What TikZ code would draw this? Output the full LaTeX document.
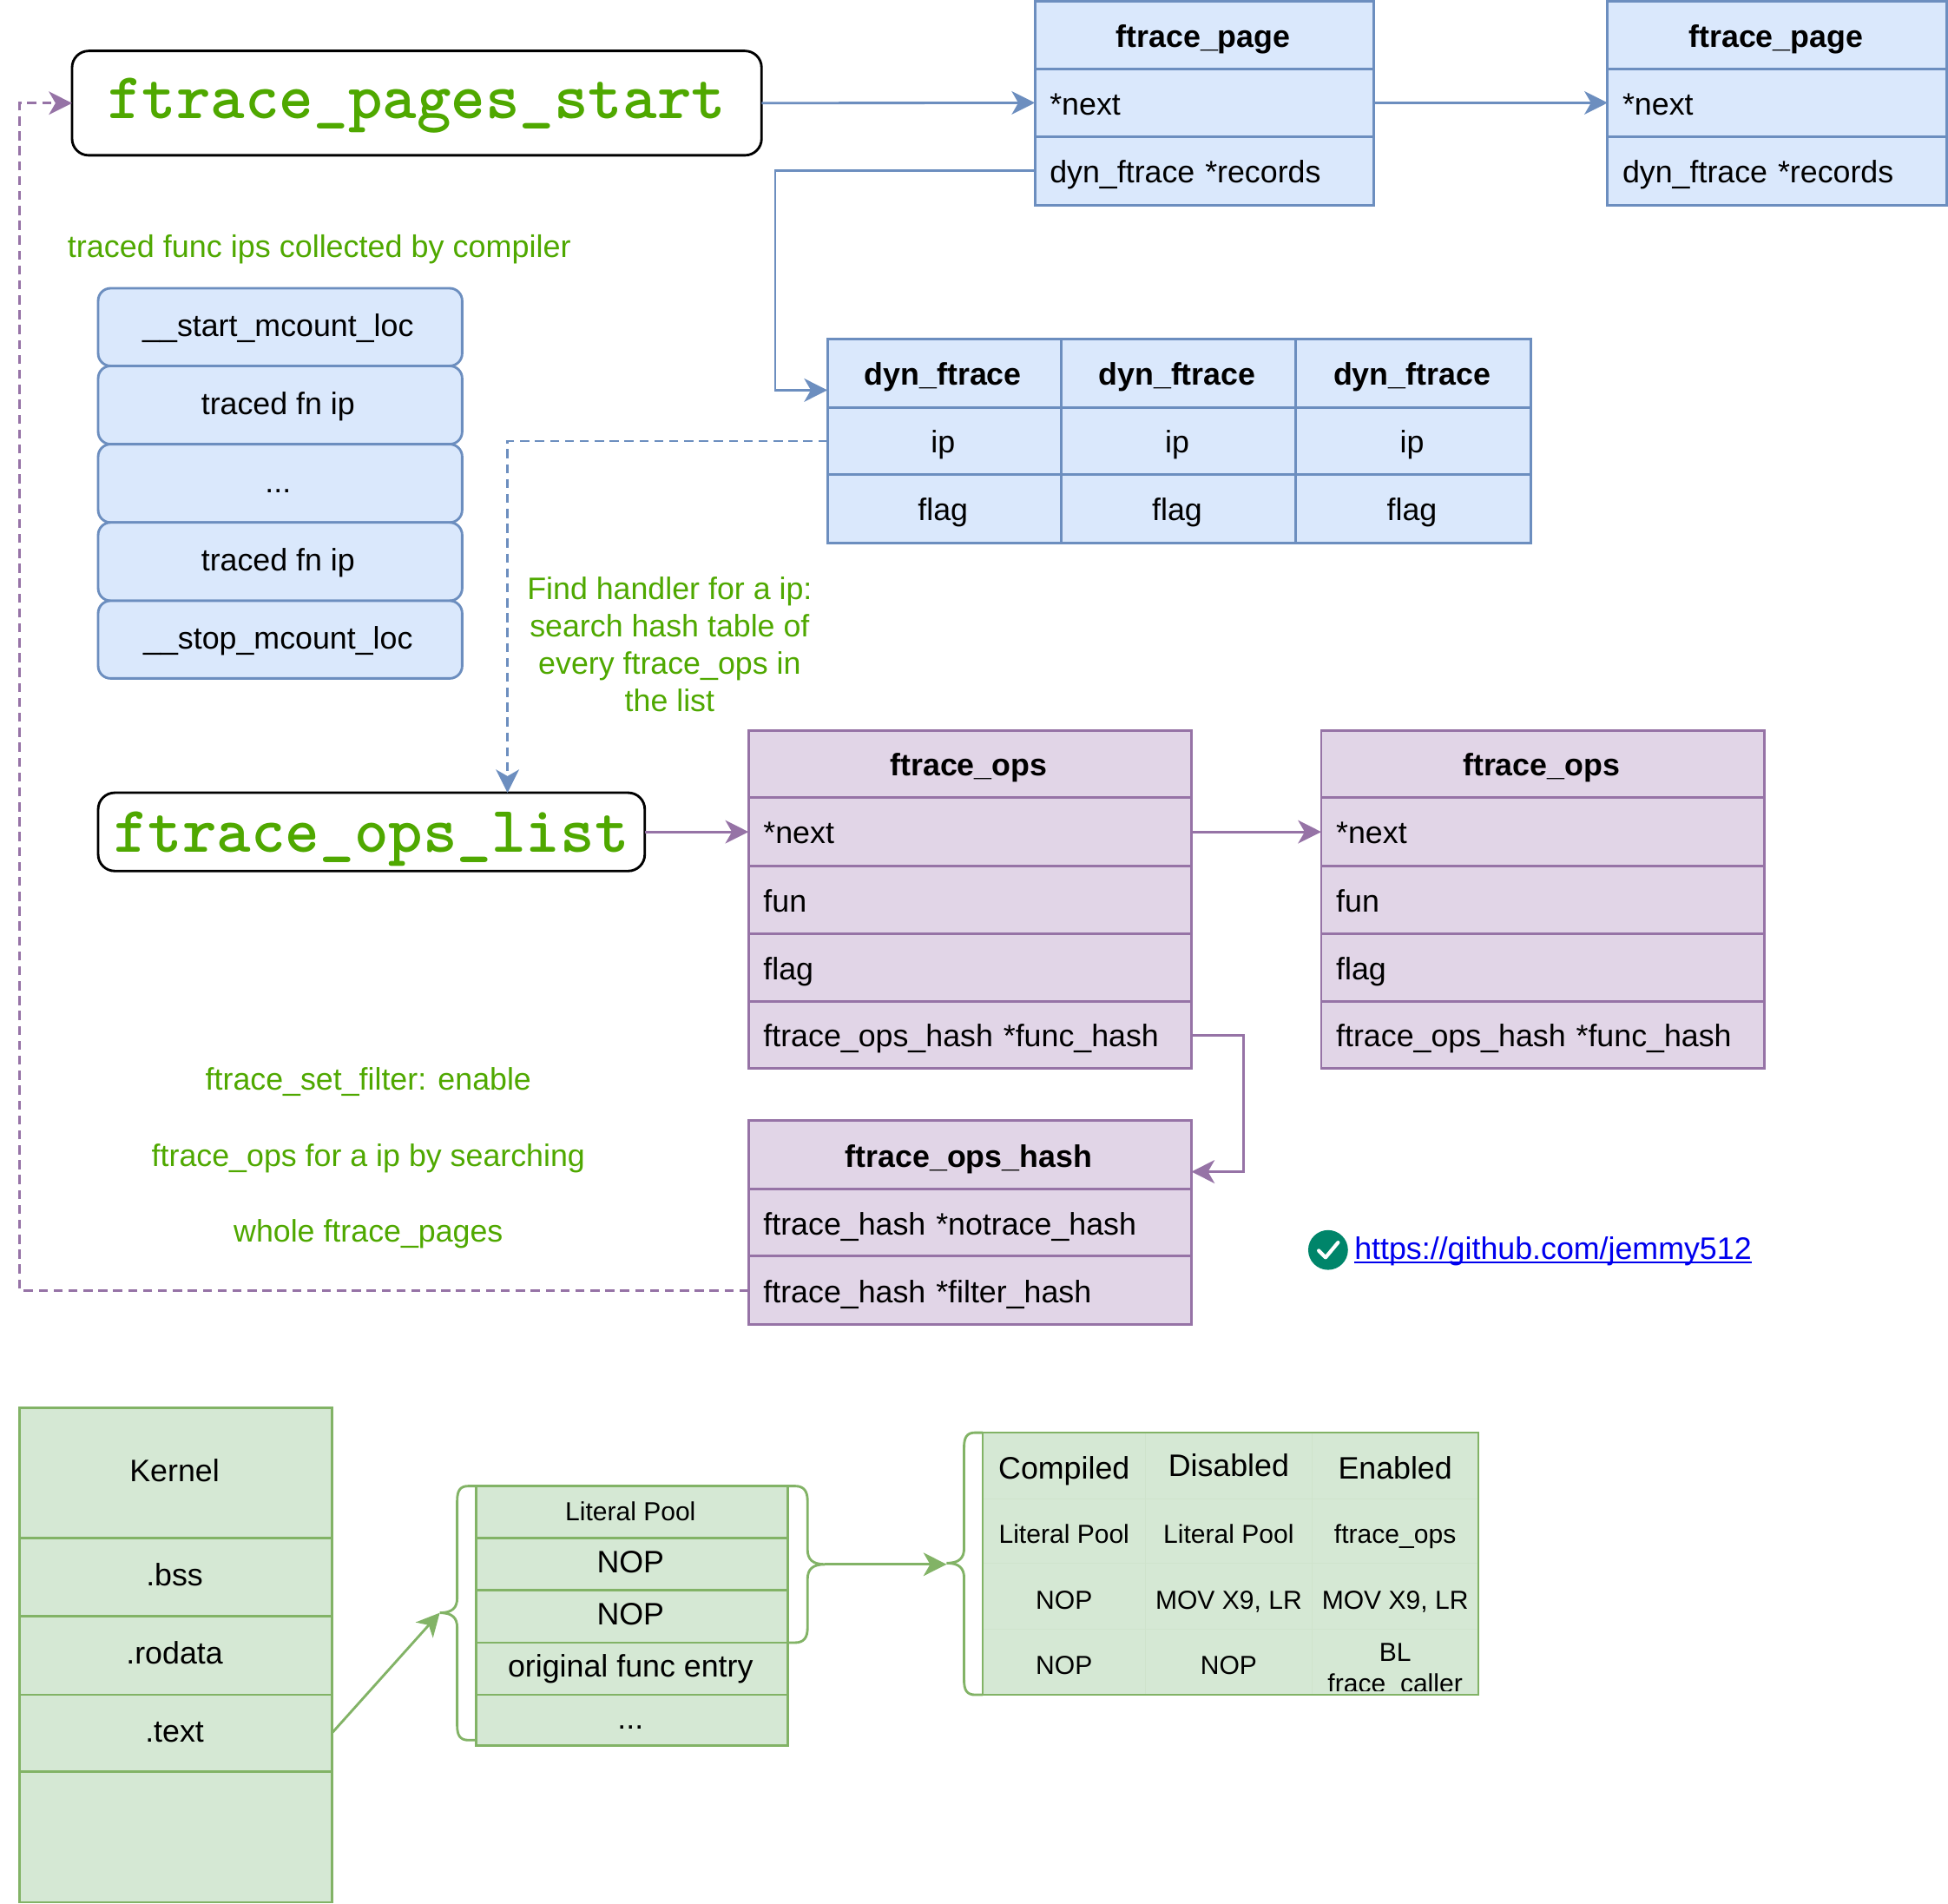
\documentclass[tikz,border=0pt]{standalone}
\usepackage{fontspec}
\usetikzlibrary{arrows.meta}
\setmainfont{Liberation Sans}
\definecolor{bl}{HTML}{6C8EBF}\definecolor{blf}{HTML}{DAE8FC}
\definecolor{pu}{HTML}{9673A6}\definecolor{puf}{HTML}{E1D5E7}
\definecolor{gr}{HTML}{82B366}\definecolor{grf}{HTML}{D5E8D4}
\definecolor{grline}{HTML}{CFE3CC}
\definecolor{note}{HTML}{4FA800}\definecolor{teal}{HTML}{00856A}\definecolor{lnk}{HTML}{0000EE}
\newcommand\mf{\fontsize{18.75pt}{22.5pt}\selectfont}
\newcommand\smf{\fontsize{15.75pt}{18.75pt}\selectfont}
\tikzset{
 base/.style={draw,rectangle,inner sep=0pt,outer sep=0pt,line width=1.5pt,text height=13.5pt,text depth=4pt,font=\mf},
 bluecell/.style={base,draw=bl,fill=blf,text height=18.5pt,execute at end node=\kern1.5pt},
 bluehead/.style={bluecell,font=\mf\bfseries},
 bluestack/.style={base,draw=bl,fill=blf,rounded corners=7.5pt,text height=15pt,execute at end node=\kern2.5pt},
 purecell/.style={base,draw=pu,fill=puf,text height=18.5pt,execute at end node=\kern1.5pt},
 purehead/.style={purecell,font=\mf\bfseries},
 greencell/.style={base,draw=gr,fill=grf,text height=14.2pt,execute at end node=\kern1.5pt},
 greensmall/.style={greencell,font=\smf},
 thincell/.style={base,draw=grline,fill=grf,line width=0.4pt,font=\smf,text height=19.5pt},
 thinhead/.style={thincell,font=\mf},
 rootbox/.style={base,draw=black,fill=white,rounded corners=10pt,text=note,text depth=7pt,font=\fontsize{39.5pt}{44pt}\selectfont\ttfamily\bfseries},
 notetext/.style={text=note,font=\mf,inner sep=0pt,align=center},
 conn/.style={line width=1.5pt,-{Stealth[length=14pt,width=14pt,inset=4pt]}},
 blueconn/.style={conn,draw=bl,color=bl},
 pureconn/.style={conn,draw=pu,color=pu},
 greenconn/.style={conn,draw=gr,color=gr},
 dashline/.style={dash pattern=on 5.5pt off 3.5pt},
 brace/.style={draw=gr,line width=1.5pt},
}
\newcommand\cellbox[7]{\node[#6,minimum width={(#4-#2)*0.75pt},minimum height={(#5-#3)*0.75pt}] (#1) at ({(#2+#4)/2},{(#3+#5)/2}) {#7};}
\newcommand\lcell[7]{\pgfmathsetlengthmacro\cw{(#4-#2)*0.75pt-18pt}\node[#6,minimum width={(#4-#2)*0.75pt},minimum height={(#5-#3)*0.75pt},text width=\cw,align=left] (#1) at ({(#2+#4)/2},{(#3+#5)/2}) {#7};}
\begin{document}
\begin{tikzpicture}[x=0.75pt,y=-0.75pt]
\useasboundingbox (0,0) rectangle (1568,1532.3);
% roots
\node[rootbox,minimum width={555*0.75pt},minimum height={84*0.75pt},text height=26pt] (pagestart) at (335.5,83) {ftrace\_pages\_start};
\node[rootbox,minimum width={440*0.75pt},minimum height={63*0.75pt},text height=32pt] (opslist) at (299,669.5) {ftrace\_ops\_list};
% ftrace_page tables
\cellbox{pa}{833}{1}{1106}{55.5}{bluehead}{ftrace\_page}
\lcell{pan}{833}{55.5}{1106}{110}{bluecell}{*next}
\lcell{par}{833}{110}{1106}{165}{bluecell}{dyn\_ftrace *records}
\cellbox{pb}{1294}{1}{1567}{55.5}{bluehead}{ftrace\_page}
\lcell{pbn}{1294}{55.5}{1567}{110}{bluecell}{*next}
\lcell{pbr}{1294}{110}{1567}{165}{bluecell}{dyn\_ftrace *records}
% dyn_ftrace table
\cellbox{da}{666}{273}{854}{328}{bluehead}{dyn\_ftrace}
\cellbox{db}{854}{273}{1043}{328}{bluehead}{dyn\_ftrace}
\cellbox{dc}{1043}{273}{1232}{328}{bluehead}{dyn\_ftrace}
\cellbox{dai}{666}{328}{854}{382}{bluecell}{ip}
\cellbox{dbi}{854}{328}{1043}{382}{bluecell}{ip}
\cellbox{dci}{1043}{328}{1232}{382}{bluecell}{ip}
\cellbox{daf}{666}{382}{854}{437}{bluecell}{flag}
\cellbox{dbf}{854}{382}{1043}{437}{bluecell}{flag}
\cellbox{dcf}{1043}{382}{1232}{437}{bluecell}{flag}
% mcount stack
\cellbox{m1}{79}{232}{372}{294.5}{bluestack}{\_\_start\_mcount\_loc}
\cellbox{m2}{79}{294.5}{372}{357.5}{bluestack}{traced fn ip}
\cellbox{m3}{79}{357.5}{372}{420.5}{bluestack}{...}
\cellbox{m4}{79}{420.5}{372}{483.5}{bluestack}{traced fn ip}
\cellbox{m5}{79}{483.5}{372}{546}{bluestack}{\_\_stop\_mcount\_loc}
% ftrace_ops tables
\cellbox{oa}{602.5}{588}{959}{642}{purehead}{ftrace\_ops}
\lcell{oan}{602.5}{642}{959}{697}{purecell}{*next}
\lcell{oaf}{602.5}{697}{959}{751.5}{purecell}{fun}
\lcell{oag}{602.5}{751.5}{959}{806}{purecell}{flag}
\lcell{oah}{602.5}{806}{959}{860}{purecell}{ftrace\_ops\_hash *func\_hash}
\cellbox{ob}{1063.5}{588}{1420}{642}{purehead}{ftrace\_ops}
\lcell{obn}{1063.5}{642}{1420}{697}{purecell}{*next}
\lcell{obf}{1063.5}{697}{1420}{751.5}{purecell}{fun}
\lcell{obg}{1063.5}{751.5}{1420}{806}{purecell}{flag}
\lcell{obh}{1063.5}{806}{1420}{860}{purecell}{ftrace\_ops\_hash *func\_hash}
% hash table
\cellbox{ha}{602.5}{902}{959}{957}{purehead}{ftrace\_ops\_hash}
\lcell{han}{602.5}{957}{959}{1011}{purecell}{ftrace\_hash *notrace\_hash}
\lcell{haf}{602.5}{1011}{959}{1066}{purecell}{ftrace\_hash *filter\_hash}
% notes
\node[notetext,font=\fontsize{18.85pt}{22.5pt}\selectfont] (n1) at (257,201) {traced func ips collected by compiler};
\node[notetext] (n2) at (539,518.5) {Find handler for a ip:\\search hash table of\\every ftrace\_ops in\\the list};
\node[notetext,font=\fontsize{18.75pt}{45.75pt}\selectfont] (n3) at (296.5,932) {ftrace\_set\_filter: enable\\ftrace\_ops for a ip by searching\\whole ftrace\_pages};
% link
\node[circle,fill=teal,minimum size={32*0.75pt},inner sep=0pt,outer sep=0pt] (chk) at (1069,1006) {};
\draw[white,line width=2.2pt,line cap=round,line join=round] (1061.5,1006.5) -- (1067,1012) -- (1077,1000);
\node[anchor=base west,inner sep=0pt,text=lnk,font=\mf] (link) at (1090,1013.5) {https://github.com/jemmy512};
\draw[lnk,line width=1.1pt] ([yshift=-1.8pt]link.base west) -- ([yshift=-1.8pt]link.base east);
% kernel
\cellbox{k0}{16}{1133}{267}{1238}{greencell}{Kernel}
\cellbox{k1}{16}{1238}{267}{1301}{greencell}{.bss}
\cellbox{k2}{16}{1301}{267}{1364}{greencell}{.rodata}
\cellbox{k3}{16}{1364}{267}{1426}{greencell}{.text}
\cellbox{k4}{16}{1426}{267}{1531}{greencell}{}
% literal pool
\draw[brace] (383,1196) -- (377,1196) .. controls (370,1196) and (368,1200) .. (368,1208) -- (368,1286) .. controls (368,1294) and (364,1298) .. (354,1298) .. controls (364,1298) and (368,1302) .. (368,1310) -- (368,1389) .. controls (368,1396) and (370,1400.5) .. (377,1400.5) -- (383,1400.5);
\draw[brace] (634,1196) -- (640,1196) .. controls (647,1196) and (650,1200) .. (650,1208) -- (650,1247) .. controls (650,1255) and (654,1259) .. (664,1259) .. controls (654,1259) and (650,1263) .. (650,1271) -- (650,1310) .. controls (650,1318) and (647,1322) .. (640,1322) -- (634,1322);
\cellbox{l0}{383}{1196}{634}{1238}{greensmall}{Literal Pool}
\cellbox{l1}{383}{1238}{634}{1280}{greencell}{NOP}
\cellbox{l2}{383}{1280}{634}{1322}{greencell}{NOP}
\cellbox{l3}{383}{1322}{634}{1364}{greencell}{original func entry}
\cellbox{l4}{383}{1364}{634}{1405}{greencell}{...}
% state table
\draw[brace] (791,1153) -- (785,1153) .. controls (778,1153) and (776,1157) .. (776,1165) -- (776,1246) .. controls (776,1254) and (772,1258) .. (762,1258) .. controls (772,1258) and (776,1262) .. (776,1270) -- (776,1352) .. controls (776,1360) and (778,1364) .. (785,1364) -- (791,1364);
\cellbox{s1}{791}{1153}{922}{1206}{thinhead,text height=20.3pt}{Compiled}
\cellbox{s2}{922}{1153}{1056}{1206}{thinhead,text height=17.3pt}{Disabled}
\cellbox{s3}{1056}{1153}{1190}{1206}{thinhead,text height=20.3pt}{Enabled}
\cellbox{s4}{791}{1206}{922}{1258}{thincell}{Literal Pool}
\cellbox{s5}{922}{1206}{1056}{1258}{thincell}{Literal Pool}
\cellbox{s6}{1056}{1206}{1190}{1258}{thincell}{ftrace\_ops}
\cellbox{s7}{791}{1258}{922}{1311}{thincell}{NOP}
\cellbox{s8}{922}{1258}{1056}{1311}{thincell}{MOV X9, LR}
\cellbox{s9}{1056}{1258}{1190}{1311}{thincell}{MOV X9, LR}
\cellbox{s10}{791}{1311}{922}{1364}{thincell}{NOP}
\cellbox{s11}{922}{1311}{1056}{1364}{thincell}{NOP}
\cellbox{s12}{1056}{1311}{1190}{1364}{thincell}{}
\draw[draw=gr,line width=0.75pt] (s1.north west) rectangle (s12.south east);
\begin{scope}
\clip (1056,1311) rectangle (1190,1361);
\node[inner sep=0pt,align=center,font=\fontsize{15.75pt}{18.75pt}\selectfont] (s12t) at (1123,1344.5) {BL\\frace\_caller};
\end{scope}
% connectors
\coordinate (recturn) at (624,314);
\coordinate (dynin) at (666,314);
\coordinate (listin) at (408.5,638);
\coordinate (hashcorner) at (1001,943);
\coordinate (hashin) at (959,943);
\coordinate (leftcorner) at (16,1038.5);
\coordinate (bracetip) at (354,1298);
\coordinate (rtip) at (664,1259);
\coordinate (stip) at (762,1259);
\draw[blueconn] (pagestart.east) -- (pan.west);
\draw[blueconn] (pan.east) -- (pbn.west);
\draw[blueconn] (par.west) -| (recturn) -- (dynin);
\draw[blueconn,dashline] (dai.west) -| (listin);
\draw[pureconn] (opslist.east) -- (oan.west);
\draw[pureconn] (oan.east) -- (obn.west);
\draw[pureconn] (oah.east) -| (hashcorner) -- (hashin);
\draw[pureconn,dashline] (haf.west) -- (leftcorner) |- (pagestart.west);
\draw[greenconn] (k3.east) -- (bracetip);
\draw[greenconn] (rtip) -- (stip);
\end{tikzpicture}
\end{document}
